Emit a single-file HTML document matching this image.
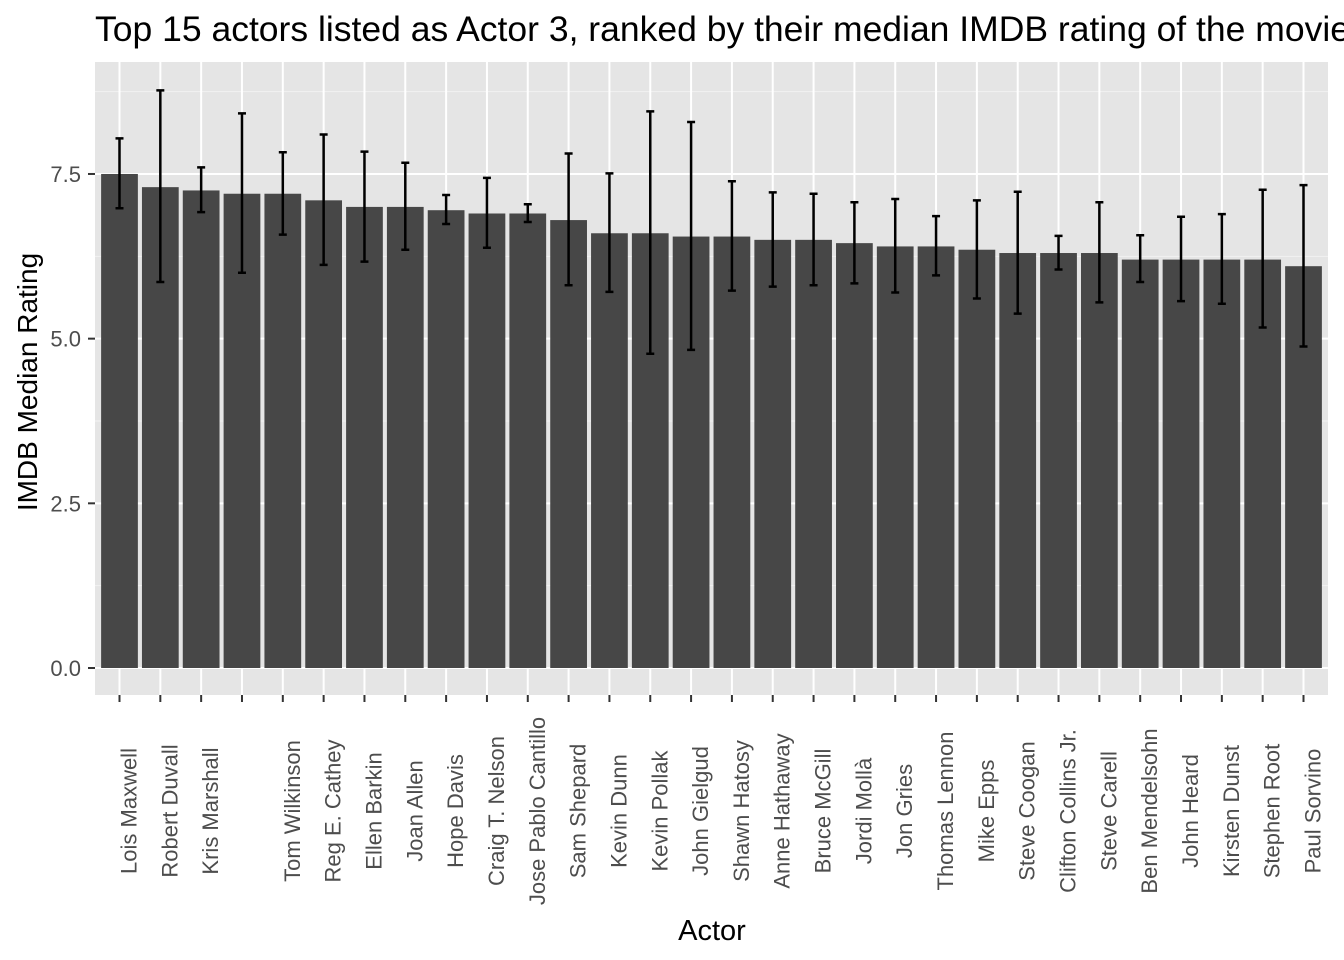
<!DOCTYPE html>
<html><head><meta charset="utf-8">
<style>
html,body{margin:0;padding:0;background:#fff;}
svg{display:block;font-family:"Liberation Sans",Arial,sans-serif;}
</style></head>
<body>
<svg id="chart" width="1344" height="960" viewBox="0 0 1344 960">
  <rect id="panel" x="95" y="62" width="1233" height="633" fill="#e5e5e5"/>
  <g id="grid"></g>
  <g id="bars"></g>
  <g id="errs"></g>
  <g id="yaxis"></g>
  <g id="xaxis"></g>
  <text x="95" y="41" font-size="35.5" fill="#000">Top 15 actors listed as Actor 3, ranked by their median IMDB rating of the movies</text>
  <text x="712" y="940" font-size="29" text-anchor="middle" fill="#000">Actor</text>
  <text transform="translate(37,382) rotate(-90)" font-size="28" text-anchor="middle" fill="#000">IMDB Median Rating</text>
</svg>
<script>
const actors = ["Lois Maxwell","Robert Duvall","Kris Marshall","","Tom Wilkinson","Reg E. Cathey","Ellen Barkin","Joan Allen","Hope Davis","Craig T. Nelson","Jose Pablo Cantillo","Sam Shepard","Kevin Dunn","Kevin Pollak","John Gielgud","Shawn Hatosy","Anne Hathaway","Bruce McGill","Jordi Mollà","Jon Gries","Thomas Lennon","Mike Epps","Steve Coogan","Clifton Collins Jr.","Steve Carell","Ben Mendelsohn","John Heard","Kirsten Dunst","Stephen Root","Paul Sorvino"];
const medians = [7.5,7.3,7.25,7.2,7.2,7.1,7.0,7.0,6.95,6.9,6.9,6.8,6.6,6.6,6.55,6.55,6.5,6.5,6.45,6.4,6.4,6.35,6.3,6.3,6.3,6.2,6.2,6.2,6.2,6.1];
const upper = [8.04,8.77,7.60,8.42,7.83,8.10,7.84,7.67,7.18,7.44,7.04,7.81,7.51,8.45,8.29,7.39,7.22,7.20,7.07,7.12,6.86,7.10,7.23,6.56,7.07,6.57,6.85,6.89,7.26,7.33];
const lower = [6.98,5.86,6.92,6.00,6.58,6.12,6.17,6.35,6.74,6.38,6.77,5.81,5.71,4.77,4.83,5.73,5.79,5.81,5.84,5.70,5.96,5.61,5.38,6.05,5.55,5.86,5.57,5.53,5.17,4.88];
const yTicks = [0,2.5,5,7.5];
const yTickLabels = ["0.0","2.5","5.0","7.5"];

const NS="http://www.w3.org/2000/svg";
const PX0=95, PW=1233, PY0=62, PY1=695;
const step = PW/(actors.length-1+1.2);
function xPos(i){return PX0+0.6*step+i*step;}
function yPos(v){return 668-v*65.87;}
function mk(tag,attrs,parent){const e=document.createElementNS(NS,tag);for(const k in attrs)e.setAttribute(k,attrs[k]);parent.appendChild(e);return e;}
const grid=document.getElementById('grid'),bars=document.getElementById('bars'),errs=document.getElementById('errs'),ya=document.getElementById('yaxis'),xa=document.getElementById('xaxis');
for(let v=1.25;v<9.2;v+=2.5){const l=mk('line',{x1:PX0,x2:PX0+PW,y1:yPos(v),y2:yPos(v),stroke:'#f2f2f2','stroke-width':1},grid);

}
yTicks.forEach((v,i)=>{const l=mk('line',{x1:PX0,x2:PX0+PW,y1:yPos(v),y2:yPos(v),stroke:'#fff','stroke-width':2},grid);


const t=mk('line',{x1:88,x2:95,y1:yPos(v),y2:yPos(v),stroke:'#333','stroke-width':2},ya);


const tx=mk('text',{x:81,y:yPos(v)+8,'font-size':22,'text-anchor':'end',fill:'#4d4d4d'},ya);
tx.textContent=yTickLabels[i];

});
actors.forEach((a,i)=>{const x=xPos(i);
const g=mk('line',{x1:x,x2:x,y1:PY0,y2:PY1,stroke:'#fff','stroke-width':2},grid);


const w=step*0.9;
const b=mk('rect',{x:x-w/2,y:yPos(medians[i]),width:w,height:yPos(0)-yPos(medians[i]),fill:'#474747'},bars);


const e=mk('path',{d:`M${x-4},${yPos(upper[i])}H${x+4}M${x},${yPos(upper[i])}V${yPos(lower[i])}M${x-4},${yPos(lower[i])}H${x+4}`,stroke:'#000','stroke-width':2.5,fill:'none'},errs);


const t=mk('line',{x1:x,x2:x,y1:PY1,y2:PY1+7,stroke:'#333','stroke-width':2},xa);


const tx=mk('text',{transform:`translate(${x+17},811) rotate(-90)`,'font-size':22,'text-anchor':'middle',fill:'#4d4d4d'},xa);
tx.textContent=a;

});
</script>
</body></html>
